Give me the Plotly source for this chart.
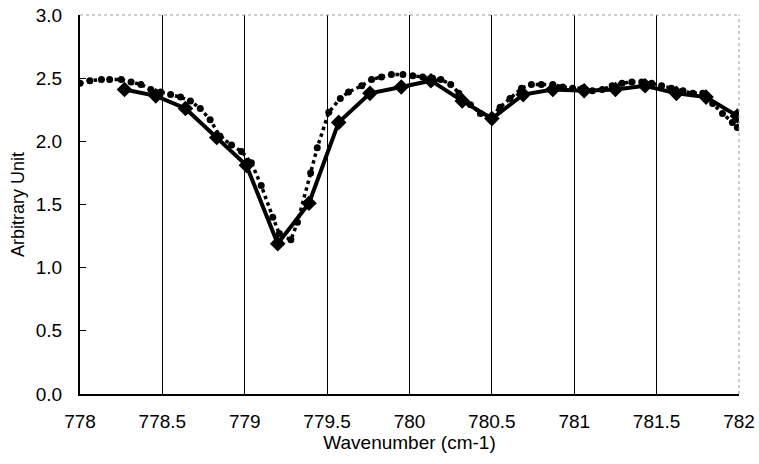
import plotly.graph_objects as go

# Measured spectrum (solid line, diamond markers)
meas_x = [778.27, 778.46, 778.64, 778.83, 779.01, 779.20, 779.39, 779.57, 779.76,
          779.95, 780.13, 780.32, 780.50, 780.69, 780.87, 781.06, 781.25, 781.43,
          781.62, 781.80, 781.99]
meas_y = [2.41, 2.36, 2.26, 2.03, 1.81, 1.19, 1.51, 2.15, 2.38,
          2.43, 2.48, 2.32, 2.18, 2.37, 2.41, 2.40, 2.41, 2.44,
          2.38, 2.35, 2.20]

# Simulated spectrum (dotted line)
sim_x = [778.00, 778.06, 778.13, 778.18, 778.25, 778.31, 778.37, 778.43, 778.49,
         778.55, 778.61, 778.67, 778.73, 778.79, 778.85, 778.92, 778.98, 779.04,
         779.10, 779.17, 779.21, 779.28, 779.32, 779.40, 779.44, 779.51, 779.58,
         779.63, 779.71, 779.77, 779.83, 779.89, 779.96, 780.02, 780.08, 780.14,
         780.19, 780.25, 780.30, 780.37, 780.43, 780.49, 780.55, 780.61, 780.68,
         780.74, 780.80, 780.87, 780.93, 780.99, 781.05, 781.11, 781.17, 781.23,
         781.29, 781.35, 781.41, 781.47, 781.53, 781.59, 781.66, 781.72, 781.78,
         781.84, 781.90, 781.96, 781.99]
sim_y = [2.46, 2.48, 2.49, 2.49, 2.49, 2.47, 2.45, 2.41, 2.39,
         2.37, 2.35, 2.32, 2.26, 2.17, 2.04, 1.97, 1.92, 1.83,
         1.65, 1.40, 1.27, 1.22, 1.36, 1.75, 1.95, 2.23, 2.34,
         2.39, 2.44, 2.49, 2.51, 2.53, 2.53, 2.52, 2.51, 2.50,
         2.49, 2.45, 2.38, 2.29, 2.22, 2.18, 2.27, 2.34, 2.42,
         2.45, 2.45, 2.45, 2.43, 2.42, 2.42, 2.40, 2.41, 2.44,
         2.46, 2.47, 2.47, 2.46, 2.44, 2.42, 2.40, 2.38, 2.38,
         2.30, 2.22, 2.15, 2.11]

x_ticks = [778, 778.5, 779, 779.5, 780, 780.5, 781, 781.5, 782]
x_tick_text = ["778", "778.5", "779", "779.5", "780", "780.5", "781", "781.5", "782"]
y_ticks = [0.0, 0.5, 1.0, 1.5, 2.0, 2.5, 3.0]
y_tick_text = ["0.0", "0.5", "1.0", "1.5", "2.0", "2.5", "3.0"]

FONT = "Liberation Sans, Arial, sans-serif"

fig = go.Figure()

fig.add_trace(go.Scatter(
    x=sim_x, y=sim_y, mode="lines+markers",
    line=dict(color="black", width=3.5, dash="dot"),
    marker=dict(symbol="circle", size=7, color="black"),
    showlegend=False,
))

fig.add_trace(go.Scatter(
    x=meas_x, y=meas_y, mode="lines+markers",
    line=dict(color="black", width=4),
    marker=dict(symbol="diamond", size=12, color="black"),
    showlegend=False,
))

# faint dotted frame on the top and right of the plot area
fig.add_shape(type="line", xref="paper", yref="paper", x0=0, x1=1, y0=1, y1=1,
              line=dict(color="#9a9a9a", width=1, dash="dot"))
fig.add_shape(type="line", xref="paper", yref="paper", x0=1, x1=1, y0=0, y1=1,
              line=dict(color="#9a9a9a", width=1, dash="dot"))

fig.update_layout(
    width=759, height=464,
    margin=dict(l=80, r=20, t=15, b=70),
    paper_bgcolor="white", plot_bgcolor="white",
    font=dict(family=FONT, color="black", size=19),
)

fig.update_xaxes(
    range=[778, 782], tickvals=x_ticks, ticktext=x_tick_text,
    showgrid=True, gridcolor="black", gridwidth=1,
    showline=True, linecolor="black", linewidth=1.5,
    ticks="", ticklabelstandoff=9, zeroline=False, automargin=False,
    title=dict(text="Wavenumber (cm-1)", font=dict(size=19), standoff=2),
    tickfont=dict(size=19),
)
fig.update_yaxes(
    range=[0, 3], tickvals=y_ticks, ticktext=y_tick_text,
    showgrid=False, showline=True, linecolor="black", linewidth=2,
    ticks="inside", ticklen=6, tickcolor="black", ticklabelstandoff=12,
    zeroline=False, automargin=False,
    title=dict(text="Arbitrary Unit", font=dict(size=18), standoff=6),
    tickfont=dict(size=19),
)

fig.write_html("out.html")
